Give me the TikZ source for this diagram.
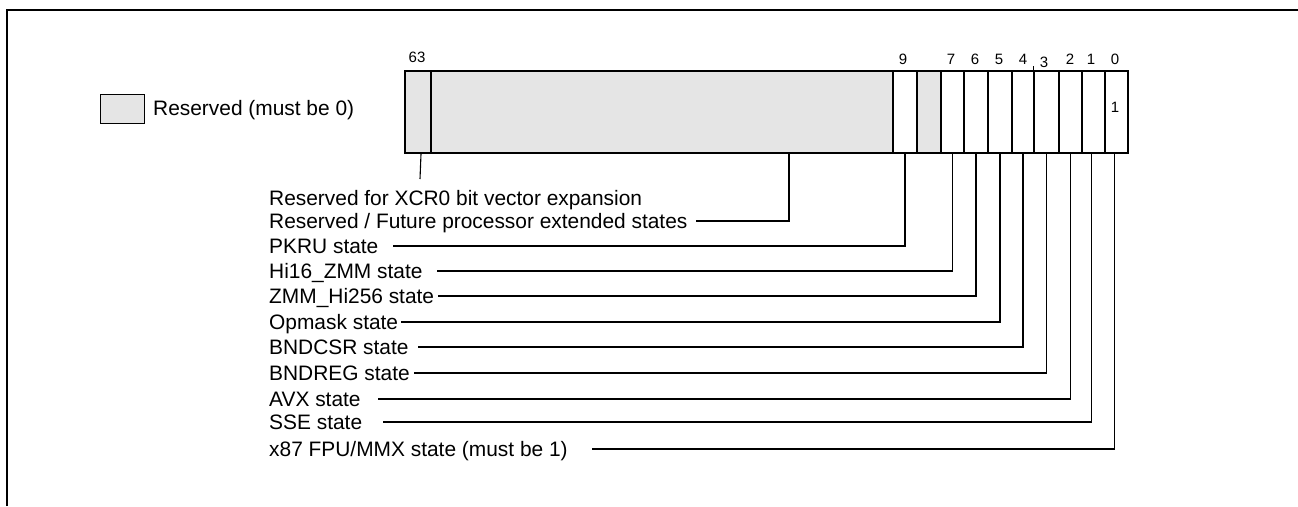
\documentclass[tikz,border=0pt]{standalone}
\usepackage{fontspec}
\setmainfont{Liberation Sans}
\definecolor{resgray}{RGB}{229,229,229}
\begin{document}
\begin{tikzpicture}[x=1pt,y=-1pt,
  cell/.style={draw,line width=2pt,inner sep=0pt,minimum height=82pt,anchor=north west},
  gcell/.style={cell,fill=resgray},
  wcell/.style={cell,fill=white},
  lbl/.style={inner sep=0pt,anchor=west,font=\fontsize{20.9}{24}\selectfont,text height=15pt,text depth=0pt},
  bitnum/.style={inner sep=0pt,anchor=center,font=\fontsize{15}{18}\selectfont,text height=10.7pt,text depth=0pt},
  leader/.style={line width=1.1pt},
  frame/.style={line width=2.2pt}]
\useasboundingbox (0,0) rectangle (1298,506);
% open frame
\draw[frame] (7,506) -- (7,10) -- (1298,10);
% legend
\node[draw,line width=0.9pt,fill=resgray,inner sep=0pt,minimum width=44pt,minimum height=29pt,anchor=north west] (leg) at (100,94) {};
\node[lbl] (legt) at (153,108) {Reserved (must be 0)};
% register cells
\node[gcell,minimum width=26pt] (b63) at (404,70) {};
\node[gcell,minimum width=462pt] (res) at (430,70) {};
\node[wcell,minimum width=24pt] (b9) at (892,70) {};
\node[gcell,minimum width=24pt] (b8) at (916,70) {};
\node[wcell,minimum width=23pt] (b7) at (940,70) {};
\node[wcell,minimum width=24pt] (b6) at (963,70) {};
\node[wcell,minimum width=24pt] (b5) at (987,70) {};
\node[wcell,minimum width=22pt] (b4) at (1011,70) {};
\node[wcell,minimum width=25pt] (b3) at (1033,70) {};
\node[wcell,minimum width=23pt] (b2) at (1058,70) {};
\node[wcell,minimum width=23pt] (b1) at (1081,70) {};
\node[wcell,minimum width=23pt] (b0) at (1104,70) {};
\node[bitnum] (one) at (1115,107) {1};
\draw[line width=1pt] (b3.north west) -- ++(0,-4);
% bit numbers
\node[bitnum] (n63) at (417,57) {63};
\node[bitnum] (n9) at (903,59) {9};
\node[bitnum] (n7) at (951,59) {7};
\node[bitnum] (n6) at (975,59) {6};
\node[bitnum] (n5) at (999,59) {5};
\node[bitnum] (n4) at (1023,59) {4};
\node[bitnum] (n3) at (1044,62) {3};
\node[bitnum] (n2) at (1070,59) {2};
\node[bitnum] (n1) at (1091,59) {1};
\node[bitnum] (n0) at (1115,59) {0};
% labels
\node[lbl] (lxcr) at (269,198) {Reserved for XCR0 bit vector expansion};
\node[lbl] (lres) at (269,221) {Reserved / Future processor extended states};
\node[lbl] (lpk) at (269,246) {PKRU state};
\node[lbl] (lhi) at (269,271) {Hi16\_ZMM state};
\node[lbl] (lzmm) at (269,296) {ZMM\_Hi256 state};
\node[lbl] (lop) at (269,322) {Opmask state};
\node[lbl] (lbc) at (269,347) {BNDCSR state};
\node[lbl] (lbr) at (269,373) {BNDREG state};
\node[lbl] (lavx) at (269,399) {AVX state};
\node[lbl] (lsse) at (269,422) {SSE state};
\node[lbl] (lx87) at (269,449) {x87 FPU/MMX state (must be 1)};
% leaders
\coordinate (e63) at (420,179);
\draw[leader] ([xshift=3pt]b63.south) -- (e63);
\draw[leader] ([xshift=127pt]res.south) |- ([xshift=8pt]lres.east);
\draw[leader] (b9.south) |- ([xshift=14pt]lpk.east);
\draw[leader] (b7.south) |- ([xshift=14pt]lhi.east);
\draw[leader] (b6.south) |- ([xshift=4pt]lzmm.east);
\draw[leader] (b5.south) |- ([xshift=3pt]lop.east);
\draw[leader] (b4.south) |- ([xshift=9pt]lbc.east);
\draw[leader] (b3.south) |- ([xshift=4pt]lbr.east);
\draw[leader] (b2.south) |- ([xshift=17pt]lavx.east);
\draw[leader] ([xshift=-2pt]b1.south) |- ([xshift=21pt]lsse.east);
\draw[leader] ([xshift=-2pt]b0.south) |- ([xshift=24pt]lx87.east);
\end{tikzpicture}
\end{document}
